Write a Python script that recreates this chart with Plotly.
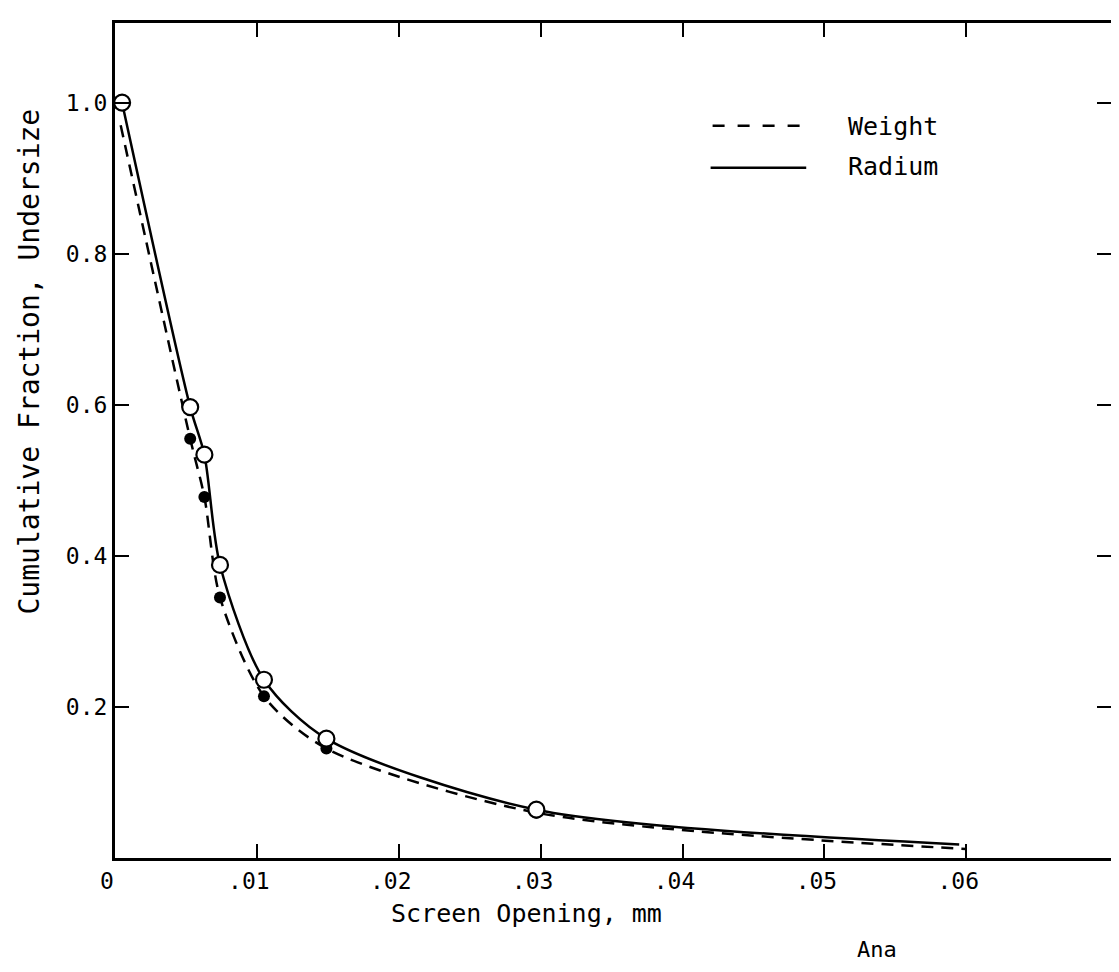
import plotly.graph_objects as go

# ---- data ----
radium_x = [0.0005, 0.0053, 0.0063, 0.0074, 0.0105, 0.0149, 0.0297, 0.0595]
radium_y = [1.000, 0.597, 0.534, 0.388, 0.236, 0.158, 0.064, 0.018]

weight_x = [0.0004, 0.0053, 0.0063, 0.0074, 0.0105, 0.0149, 0.0297, 0.0600]
weight_y = [0.970, 0.555, 0.478, 0.345, 0.214, 0.145, 0.060, 0.012]

x_tick_vals = [0, 0.01, 0.02, 0.03, 0.04, 0.05, 0.06]
x_tick_text = ["0", ".01", ".02", ".03", ".04", ".05", ".06"]
y_tick_vals = [0.2, 0.4, 0.6, 0.8, 1.0]
y_tick_text = ["0.2", "0.4", "0.6", "0.8", "1.0"]

FONT = "DejaVu Sans Mono"

fig = go.Figure()

# curves
fig.add_trace(go.Scatter(
    x=weight_x, y=weight_y, name="Weight", mode="lines",
    line=dict(color="black", width=2.5, dash="12px,8px", shape="spline", smoothing=0.8),
    showlegend=False, hoverinfo="skip",
))
fig.add_trace(go.Scatter(
    x=radium_x, y=radium_y, name="Radium", mode="lines",
    line=dict(color="black", width=2.5, shape="spline", smoothing=0.8),
    showlegend=False, hoverinfo="skip",
))
# plotted points (curve ends carry no symbol in the reference)
fig.add_trace(go.Scatter(
    x=weight_x[1:-1], y=weight_y[1:-1], name="Weight", mode="markers",
    marker=dict(symbol="circle", size=12, color="black", opacity=1),
    showlegend=False,
))
fig.add_trace(go.Scatter(
    x=radium_x[:-1], y=radium_y[:-1], name="Radium", mode="markers",
    marker=dict(symbol="circle", size=16, color="white", opacity=1,
                line=dict(color="black", width=2.2)),
    showlegend=False,
))

axis_common = dict(
    showline=True, linecolor="black", linewidth=3, mirror="ticks",
    ticks="inside", ticklen=14, tickwidth=2, tickcolor="black",
    showgrid=False, zeroline=False,
    tickfont=dict(family=FONT, size=23, color="black"),
)

fig.update_xaxes(range=[0, 0.0702], tickmode="array", tickvals=x_tick_vals,
                 ticktext=x_tick_text, ticklabelshift=-8, **axis_common)
fig.update_yaxes(range=[0, 1.1055], tickmode="array", tickvals=y_tick_vals,
                 ticktext=y_tick_text, **axis_common)

annotations = [
    dict(text="Screen Opening, mm", x=0.413, y=-0.066, xref="paper", yref="paper",
         showarrow=False, font=dict(family=FONT, size=25, color="black"),
         xanchor="center", yanchor="middle"),
    dict(text="Cumulative Fraction, Undersize", x=-0.086, y=0.595, xref="paper", yref="paper",
         showarrow=False, textangle=-90, font=dict(family=FONT, size=28, color="black"),
         xanchor="center", yanchor="middle"),
    dict(text="Weight", x=0.734, y=0.876, xref="paper", yref="paper",
         showarrow=False, font=dict(family=FONT, size=25, color="black"),
         xanchor="left", yanchor="middle"),
    dict(text="Radium", x=0.734, y=0.828, xref="paper", yref="paper",
         showarrow=False, font=dict(family=FONT, size=25, color="black"),
         xanchor="left", yanchor="middle"),
    dict(text="Ana", x=0.765, y=-0.110, xref="paper", yref="paper",
         showarrow=False, font=dict(family=FONT, size=22, color="black"),
         xanchor="center", yanchor="middle"),
]

shapes = [
    dict(type="line", xref="paper", yref="paper", x0=0.600, x1=0.694, y0=0.877, y1=0.877,
         line=dict(color="black", width=2.5, dash="12px,13px")),
    dict(type="line", xref="paper", yref="paper", x0=0.598, x1=0.694, y0=0.8266, y1=0.8266,
         line=dict(color="black", width=2.5)),
]

fig.update_layout(
    width=1119, height=972,
    margin=dict(l=107, r=16, t=12, b=122),
    paper_bgcolor="white", plot_bgcolor="white",
    annotations=annotations, shapes=shapes,
    showlegend=False,
)

fig.write_html("out.html")
